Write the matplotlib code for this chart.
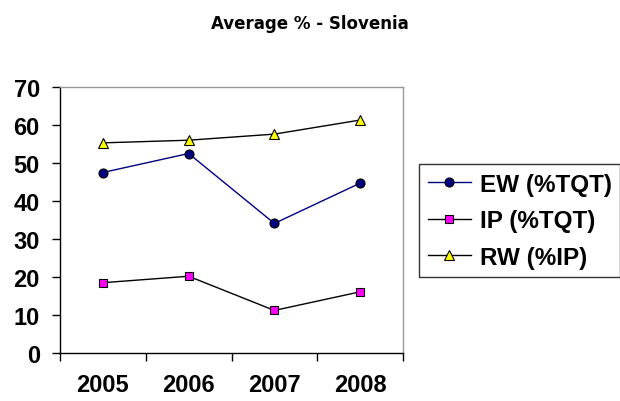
import matplotlib
matplotlib.use("Agg")
import matplotlib.pyplot as plt

years = ["2005", "2006", "2007", "2008"]
ew = [47.5, 52.5, 34.1, 44.7]
ip = [18.5, 20.2, 11.2, 16.1]
rw = [55.3, 56.0, 57.6, 61.3]
labels = ["EW (%TQT)", "IP (%TQT)", "RW (%IP)"]
title = "Average % - Slovenia"
yticks = [0, 10, 20, 30, 40, 50, 60, 70]

plt.rcParams['font.family'] = ['Liberation Sans', 'DejaVu Sans']

fig = plt.figure(figsize=(6.2, 4.02), dpi=100)
ax = fig.add_axes([60/620, 48/402, 343/620, 266/402])

x = list(range(len(years)))
ax.plot(x, ew, color='#000080', lw=1, marker='o', ms=6.5, mfc='#000080', mec='black', mew=0.8, label=labels[0])
ax.plot(x, ip, color='black', lw=1, marker='s', ms=5.5, mfc='#FF00FF', mec='black', mew=0.8, label=labels[1])
ax.plot(x, rw, color='black', lw=1, marker='^', ms=7, mfc='#FFFF00', mec='black', mew=0.8, label=labels[2])

ax.set_xlim(-0.5, len(years) - 0.5)
ax.set_ylim(0, 70)
ax.set_yticks(yticks)
ax.set_yticklabels([str(v) for v in yticks], fontsize=17, fontweight='bold')
ax.set_xticks([i - 0.5 for i in range(len(years) + 1)])
ax.set_xticklabels([])
ax.set_xticks(x, minor=True)
ax.set_xticklabels(years, minor=True, fontsize=17, fontweight='bold')
ax.tick_params(axis='x', which='minor', length=0, pad=14.5)
ax.tick_params(axis='x', which='major', direction='out', length=6, width=1, color='black')
ax.tick_params(axis='y', direction='out', length=6, width=1, pad=8.5)

for s in ['top', 'right']:
    ax.spines[s].set_color('#999999')
    ax.spines[s].set_linewidth(1)
for s in ['left', 'bottom']:
    ax.spines[s].set_color('black')
    ax.spines[s].set_linewidth(1)

fig.text(0.5, 1 - 24/402, title, ha='center', va='center', fontsize=12,
         fontweight='bold', family='DejaVu Sans')

leg = fig.legend(loc='upper left', bbox_to_anchor=(419/620, 1 - 165/402),
                 prop={'weight': 'bold', 'size': 17.5}, frameon=True, fancybox=False,
                 handlelength=1.8, handletextpad=0.35, borderpad=0.35, labelspacing=0.56,
                 borderaxespad=0)
leg.get_frame().set_edgecolor('black')
leg.get_frame().set_linewidth(1)

fig.savefig("out.png", dpi=100)
